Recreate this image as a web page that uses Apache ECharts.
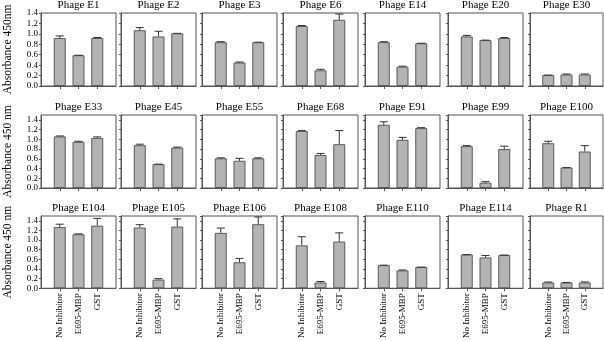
<!DOCTYPE html>
<html>
<head>
<meta charset="utf-8">
<script src="https://cdn.jsdelivr.net/npm/echarts@6/dist/echarts.min.js"></script>
<style>
  html, body { margin: 0; padding: 0; background: #fff; }
  #chart { width: 604px; height: 341px; }
</style>
</head>
<body>
<div id="chart"></div>
<script>
const phages = [
  "E1", "E2", "E3", "E6", "E14", "E20", "E30",
  "E33", "E45", "E55", "E68", "E91", "E99", "E100",
  "E104", "E105", "E106", "E108", "E110", "E114", "R1",
];
const groups = ["No Inhibitor", "E695-MBP", "GST"];

// mean absorbance per panel, one array per treatment
const noInhibitor = [0.92, 1.07, 0.84, 1.15, 0.84, 0.95, 0.21, 1.06, 0.88, 0.61, 1.17, 1.30, 0.86, 0.92, 1.27, 1.26, 1.15, 0.89, 0.48, 0.70, 0.12];
const mbp = [0.59, 0.95, 0.45, 0.30, 0.37, 0.88, 0.22, 0.95, 0.49, 0.56, 0.68, 0.99, 0.11, 0.42, 1.12, 0.18, 0.54, 0.12, 0.37, 0.64, 0.12];
const gst = [0.92, 1.01, 0.84, 1.27, 0.82, 0.92, 0.22, 1.03, 0.83, 0.61, 0.90, 1.23, 0.80, 0.75, 1.30, 1.28, 1.33, 0.97, 0.44, 0.69, 0.12];

// upper error (SD)
const errNoInhibitor = [0.04, 0.05, 0.01, 0.01, 0.01, 0.02, 0.00, 0.01, 0.02, 0.01, 0.01, 0.06, 0.01, 0.04, 0.06, 0.06, 0.10, 0.18, 0.00, 0.00, 0.01];
const errMbp = [0.00, 0.10, 0.01, 0.02, 0.01, 0.00, 0.01, 0.01, 0.00, 0.05, 0.03, 0.05, 0.02, 0.00, 0.01, 0.02, 0.08, 0.02, 0.01, 0.04, 0.00];
const errGst = [0.01, 0.00, 0.00, 0.11, 0.00, 0.01, 0.01, 0.02, 0.01, 0.01, 0.28, 0.01, 0.06, 0.12, 0.15, 0.16, 0.15, 0.18, 0.00, 0.00, 0.01];

const yTitles = ["Absorbance 450nm", "Absorbance 450 nm", "Absorbance 450 nm"];
const yMax = [1.4, 1.5, 1.5];

const FONT = "'Liberation Serif', 'DejaVu Serif', serif";
const colLeft = [41, 121, 202, 283, 365, 448, 530];
const rowTop = [13, 115, 216];
const PANEL_W = 75;
const PANEL_H = 73;
const titleTop = [0, 101.5, 203];

const buildOption = () => {
  const grid = [], xAxis = [], yAxis = [], series = [], title = [];
  phages.forEach((name, i) => {
    const row = Math.floor(i / 7);
    const col = i % 7;
    const w = col === 6 ? 73 : PANEL_W;
    grid.push({
      left: colLeft[col], top: rowTop[row], width: w, height: PANEL_H,
      show: true, borderColor: "#555", borderWidth: 1,
    });
    title.push({
      text: "Phage " + name,
      left: colLeft[col] + w / 2,
      top: titleTop[row],
      textAlign: "center",
      padding: 0,
      textStyle: { fontFamily: FONT, fontSize: 11, fontWeight: "normal", color: "#000" },
    });
    const onTick = (idx) => idx >= 1 && idx <= 3;
    xAxis.push({
      gridIndex: i,
      type: "category",
      data: ["", ...groups, ""],
      boundaryGap: false,
      axisLine: { lineStyle: { color: "#555", width: 1 } },
      axisTick: { length: 3, interval: onTick, lineStyle: { color: "#555" } },
      axisLabel: {
        show: row === 2,
        interval: onTick,
        rotate: 90,
        margin: 5,
        fontFamily: FONT,
        fontSize: 9,
        color: "#000",
      },
      splitLine: { show: false },
    });
    yAxis.push({
      gridIndex: i,
      type: "value",
      min: 0,
      max: yMax[row],
      interval: 0.2,
      name: col === 0 ? yTitles[row] : "",
      nameLocation: "middle",
      nameGap: 27,
      nameTextStyle: { fontFamily: FONT, fontSize: 11.5, color: "#000" },
      axisLine: { show: true, lineStyle: { color: "#555", width: 1 } },
      axisTick: { show: true, length: 2, lineStyle: { color: "#555" } },
      axisLabel: {
        show: col === 0,
        showMinLabel: true,
        showMaxLabel: row === 0,
        hideOverlap: false,
        margin: 3,
        fontFamily: FONT,
        fontSize: 9,
        lineHeight: 9,
        color: "#000",
        formatter: (v) => v.toFixed(1),
      },
      splitLine: { show: false },
    });
    const vals = [noInhibitor[i], mbp[i], gst[i]];
    const errs = [errNoInhibitor[i], errMbp[i], errGst[i]];
    series.push({
      type: "bar",
      xAxisIndex: i,
      yAxisIndex: i,
      data: ["-", ...vals, "-"],
      barWidth: 12,
      itemStyle: { color: "#b3b3b3", borderColor: "#5a5a5a", borderWidth: 1 },
      silent: true,
      animation: false,
    });
    series.push({
      type: "custom",
      xAxisIndex: i,
      yAxisIndex: i,
      data: vals.map((v, k) => [k + 1, v, errs[k]]),
      renderItem: (params, api) => {
        const x = api.value(0);
        const base = api.coord([x, api.value(1)]);
        const top = api.coord([x, api.value(1) + api.value(2)]);
        const cap = 4;
        const style = { stroke: "#333", lineWidth: 1 };
        return {
          type: "group",
          children: [
            { type: "line", shape: { x1: base[0], y1: base[1], x2: top[0], y2: top[1] }, style },
            { type: "line", shape: { x1: top[0] - cap, y1: top[1], x2: top[0] + cap, y2: top[1] }, style },
          ],
        };
      },
      z: 3,
      silent: true,
      animation: false,
    });
  });
  return { animation: false, backgroundColor: "#fff", title, grid, xAxis, yAxis, series };
};

const chart = echarts.init(document.getElementById("chart"));
chart.setOption(buildOption());
</script>
</body>
</html>
